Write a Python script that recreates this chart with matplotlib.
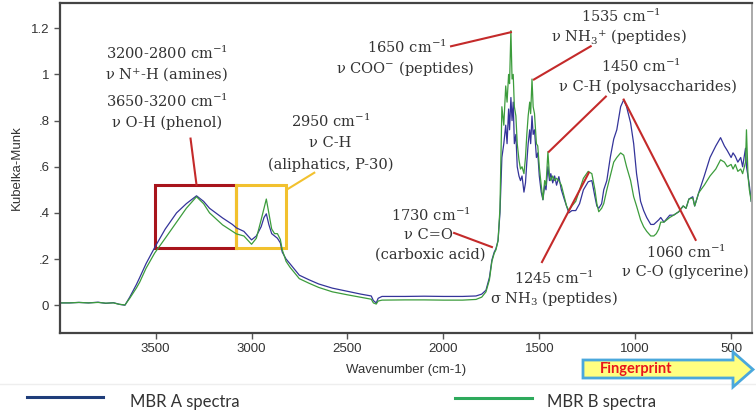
import matplotlib
matplotlib.use("Agg")
import matplotlib.pyplot as plt
from matplotlib.patches import Polygon, Rectangle
from matplotlib.lines import Line2D

plt.rcParams['mathtext.fontset'] = 'dejavuserif'

# wavenumber (cm-1) and Kubelka-Munk values
wavenumber = [4000, 3950, 3900, 3850, 3800, 3760, 3720, 3690, 3660, 3635, 3600, 3583, 3550, 3505,
              3450, 3391, 3340, 3287, 3250, 3219, 3151, 3100, 3079, 3040, 3000, 2975, 2950, 2935,
              2923, 2910, 2895, 2880, 2865, 2850, 2840, 2820, 2800, 2751, 2700, 2650, 2579, 2500,
              2430, 2376, 2365, 2350, 2340, 2320, 2200, 2100, 2000, 1900, 1830, 1800, 1778, 1760,
              1747, 1735, 1726, 1715, 1705, 1695, 1685, 1675, 1668, 1660, 1655, 1648, 1642, 1636,
              1630, 1622, 1615, 1606, 1598, 1590, 1580, 1572, 1565, 1558, 1550, 1545, 1538, 1532,
              1525, 1515, 1508, 1500, 1490, 1481, 1472, 1465, 1455, 1447, 1440, 1430, 1420, 1410,
              1398, 1385, 1370, 1358, 1346, 1330, 1310, 1290, 1270, 1245, 1226, 1210, 1200, 1190,
              1175, 1164, 1148, 1130, 1112, 1096, 1076, 1060, 1045, 1024, 1008, 993, 972, 956,
              940, 919, 903, 890, 877, 867, 850, 820, 800, 773, 750, 735, 720, 700, 690, 669,
              640, 610, 580, 555, 535, 520, 500, 490, 478, 465, 450, 440, 425, 420, 412, 405, 395]

mbr_a = [0.010, 0.010, 0.012, 0.010, 0.013, 0.008, 0.011, 0.004, 0.000, 0.035, 0.090, 0.120, 0.180, 0.250,
         0.330, 0.400, 0.440, 0.474, 0.450, 0.420, 0.378, 0.350, 0.335, 0.320, 0.283, 0.300, 0.340, 0.380,
         0.396, 0.350, 0.310, 0.300, 0.290, 0.270, 0.230, 0.200, 0.180, 0.130, 0.110, 0.092, 0.074, 0.060,
         0.048, 0.040, 0.020, 0.010, 0.030, 0.038, 0.038, 0.039, 0.038, 0.038, 0.040, 0.048, 0.065, 0.120,
         0.196, 0.230, 0.245, 0.280, 0.400, 0.640, 0.700, 0.780, 0.700, 0.850, 0.760, 0.900, 0.800, 0.880,
         0.700, 0.740, 0.600, 0.560, 0.540, 0.560, 0.490, 0.530, 0.620, 0.700, 0.760, 0.700, 0.820, 0.740,
         0.760, 0.640, 0.660, 0.560, 0.490, 0.457, 0.520, 0.500, 0.600, 0.540, 0.570, 0.530, 0.560, 0.520,
         0.557, 0.500, 0.460, 0.430, 0.400, 0.410, 0.410, 0.440, 0.500, 0.535, 0.540, 0.470, 0.430, 0.420,
         0.440, 0.500, 0.540, 0.640, 0.720, 0.760, 0.860, 0.890, 0.860, 0.790, 0.700, 0.570, 0.450, 0.410,
         0.380, 0.350, 0.350, 0.360, 0.370, 0.380, 0.360, 0.390, 0.390, 0.405, 0.430, 0.420, 0.460, 0.470, 0.430, 0.487,
         0.560, 0.640, 0.690, 0.726, 0.690, 0.670, 0.640, 0.660, 0.645, 0.620, 0.640, 0.600, 0.680, 0.600, 0.560, 0.520, 0.450]

mbr_b = [0.010, 0.010, 0.012, 0.010, 0.012, 0.009, 0.010, 0.004, 0.001, 0.030, 0.075, 0.100, 0.160, 0.226,
         0.290, 0.360, 0.420, 0.470, 0.440, 0.400, 0.348, 0.320, 0.309, 0.300, 0.264, 0.290, 0.370, 0.420,
         0.460, 0.400, 0.330, 0.310, 0.310, 0.285, 0.240, 0.190, 0.165, 0.115, 0.095, 0.077, 0.058, 0.045,
         0.034, 0.026, 0.010, 0.005, 0.018, 0.022, 0.023, 0.023, 0.022, 0.022, 0.025, 0.035, 0.058, 0.110,
         0.190, 0.225, 0.240, 0.280, 0.420, 0.860, 0.780, 0.950, 0.880, 1.000, 0.960, 1.190, 0.980, 1.000,
         0.860, 0.820, 0.700, 0.630, 0.590, 0.600, 0.570, 0.640, 0.740, 0.820, 0.880, 0.830, 0.980, 0.860,
         0.830, 0.700, 0.690, 0.600, 0.520, 0.457, 0.540, 0.520, 0.665, 0.560, 0.540, 0.560, 0.540, 0.550,
         0.540, 0.520, 0.470, 0.430, 0.410, 0.430, 0.450, 0.500, 0.550, 0.580, 0.570, 0.500, 0.440, 0.405,
         0.420, 0.440, 0.500, 0.560, 0.620, 0.640, 0.660, 0.650, 0.600, 0.540, 0.470, 0.430, 0.370, 0.340,
         0.320, 0.300, 0.300, 0.310, 0.330, 0.360, 0.360, 0.380, 0.390, 0.405, 0.430, 0.420, 0.460, 0.465, 0.430, 0.487,
         0.520, 0.560, 0.590, 0.630, 0.620, 0.600, 0.610, 0.590, 0.610, 0.580, 0.590, 0.570, 0.620, 0.760, 0.560, 0.500, 0.450]

x_ticks = [3500, 3000, 2500, 2000, 1500, 1000, 500]
y_ticks = [0, 0.2, 0.4, 0.6, 0.8, 1.0, 1.2]
y_tick_labels = ['0', '.2', '.4', '.6', '.8', '1', '1.2']

blue = '#34349a'
green = '#3c9c3c'
red = '#c42a2a'
txt = '#333333'

fig = plt.figure(figsize=(7.56, 4.12), dpi=100)
ax = fig.add_axes([0.079, 0.192, 0.916, 0.801])

ax.plot(wavenumber, mbr_a, color=blue, lw=0.9)
ax.plot(wavenumber, mbr_b, color=green, lw=0.9)

ax.set_xlim(4000, 390)
ax.set_ylim(-0.12, 1.31)
ax.set_xticks(x_ticks)
ax.set_yticks(y_ticks)
ax.set_yticklabels(y_tick_labels)
ax.tick_params(labelsize=9.5, colors='#555555', labelcolor=txt, length=4, width=1)
for lab in ax.get_xticklabels() + ax.get_yticklabels():
    lab.set_family('Liberation Sans')
ax.set_xlabel('Wavenumber (cm-1)', fontsize=9.5, color=txt, labelpad=6, family='Liberation Sans')
ax.set_ylabel('Kubelka-Munk', fontsize=9.5, color=txt, labelpad=6, family='Liberation Sans')
for s in ['left', 'top', 'bottom']:
    ax.spines[s].set_color('#444444')
    ax.spines[s].set_linewidth(1.6)
ax.spines['right'].set_color('#aaaaaa')
ax.spines['right'].set_linewidth(1.4)

# boxes around the O-H / N-H and C-H regions
ax.add_patch(Rectangle((3080, 0.25), 425, 0.27, fill=False, ec='#a8141c', lw=2.2))
ax.add_patch(Rectangle((2818, 0.25), 262, 0.27, fill=False, ec='#f2c12e', lw=2.2))

# annotation leader lines
leaders = [((3318, 0.722), (3287, 0.522), red),
           ((2818, 0.50), (2673, 0.574), '#f2c12e'),
           ((1960, 1.122), (1648, 1.183), red),
           ((1528, 0.978), (1232, 1.122), red),
           ((1450, 0.665), (1153, 0.904), red),
           ((1060, 0.891), (685, 0.283), red),
           ((1486, 0.187), (1242, 0.574), red),
           ((1944, 0.313), (1747, 0.252), red)]
for p0, p1, c in leaders:
    ax.plot([p0[0], p1[0]], [p0[1], p1[1]], color=c, lw=1.5)

labels = [(3443, 1.091, r'3200-2800 cm$^{-1}$'),
          (3443, 0.996, r'ν N$^{+}$-H (amines)'),
          (3443, 0.883, r'3650-3200 cm$^{-1}$'),
          (3443, 0.791, r'ν O-H (phenol)'),
          (2589, 0.796, r'2950 cm$^{-1}$'),
          (2589, 0.704, r'ν C-H'),
          (2589, 0.609, r'(aliphatics, P-30)'),
          (2189, 1.117, r'1650 cm$^{-1}$'),
          (2199, 1.026, r'ν COO$^{-}$ (peptides)'),
          (1075, 1.252, r'1535 cm$^{-1}$'),
          (1086, 1.161, r'ν NH$_3$$^{+}$ (peptides)'),
          (971, 1.035, r'1450 cm$^{-1}$'),
          (935, 0.948, r'ν C-H (polysaccharides)'),
          (2064, 0.391, r'1730 cm$^{-1}$'),
          (2080, 0.304, r'ν C=O'),
          (2069, 0.217, r'(carboxic acid)'),
          (1424, 0.117, r'1245 cm$^{-1}$'),
          (1424, 0.030, r'σ NH$_3$ (peptides)'),
          (737, 0.230, r'1060 cm$^{-1}$'),
          (737, 0.143, r'ν C-O (glycerine)')]
for x, y, s in labels:
    ax.text(x, y, s, ha='center', va='center', fontsize=10.5, color=txt, family='DejaVu Serif')

# fingerprint arrow (figure pixel -> fraction)
W, H = 756.0, 412.0
pts = [(583, 360), (733, 360), (733, 352), (753, 369.5), (733, 387), (733, 378), (583, 378)]
fig.patches.append(Polygon([(px / W, 1 - py / H) for px, py in pts], closed=True,
                           transform=fig.transFigure, fc='#ffff80', ec='#4aa8dc', lw=2, zorder=5))
fig.text(636 / W, 1 - 369 / H, 'Fingerprint', color='#e8161c', fontsize=10.5, fontweight='bold',
         family='Lato', ha='center', va='center', zorder=6)

# thin separator and legend
fig.add_artist(Line2D([0, 1], [1 - 384 / H, 1 - 384 / H], color='#eeeeee', lw=1))
fig.add_artist(Line2D([27 / W, 103 / W], [1 - 397 / H] * 2, color='#1f3d7a', lw=2.2))
fig.text(130 / W, 1 - 402 / H, 'MBR A spectra', fontsize=12, family='Lato', color=txt, va='center')
fig.add_artist(Line2D([455 / W, 532 / W], [1 - 398 / H] * 2, color='#2eaa5c', lw=2.2))
fig.text(547 / W, 1 - 402 / H, 'MBR B spectra', fontsize=12, family='Lato', color=txt, va='center')

fig.savefig('out.png', dpi=100)
